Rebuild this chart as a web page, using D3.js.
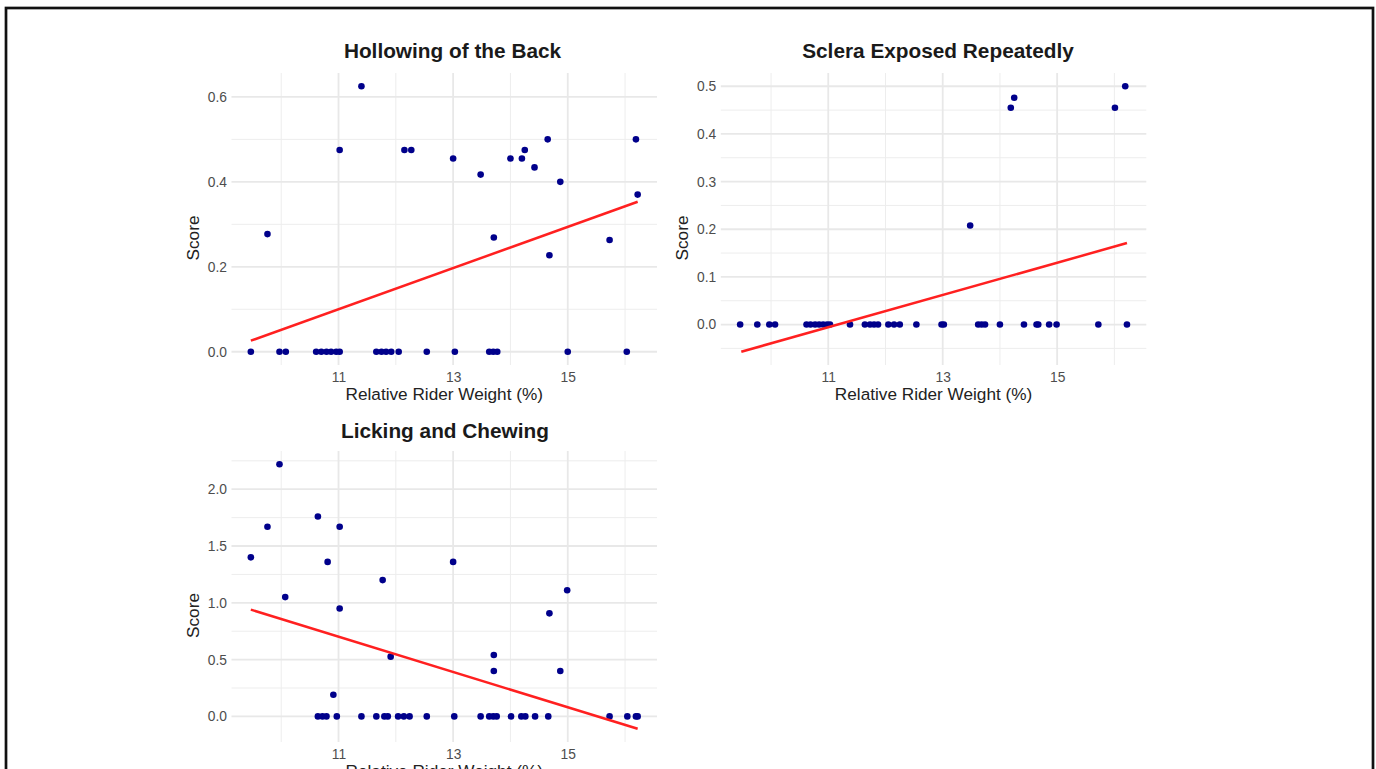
<!DOCTYPE html>
<html>
<head>
<meta charset="utf-8">
<script src="https://cdn.jsdelivr.net/npm/d3@7"></script>
<style>
  body { margin: 0; background: #fff; }
  svg { display: block; font-family: "Liberation Sans", Arial, sans-serif; }
</style>
</head>
<body>
<div id="chart"></div>
<script>
const W = 1376, H = 769;

// relative rider weight (%) and score
const hollowPts = [
  [9.47,0],[9.76,0.277],[9.97,0],[10.08,0],[10.61,0],[10.70,0],[10.79,0],[10.87,0],
  [10.96,0],[11.02,0],[11.02,0.475],[11.40,0.625],[11.66,0],[11.75,0],[11.83,0],[11.92,0],
  [12.05,0],[12.15,0.475],[12.27,0.475],[12.54,0],[13.00,0.455],[13.03,0],[13.48,0.417],
  [13.63,0],[13.70,0],[13.77,0],[13.71,0.269],[14.00,0.455],[14.20,0.455],[14.25,0.475],
  [14.42,0.434],[14.65,0.5],[14.68,0.227],[14.87,0.4],[15.00,0],[15.73,0.263],[16.03,0],
  [16.19,0.5],[16.22,0.37]
];
const scleraPts = [
  [9.46,0],[9.76,0],[9.97,0],[10.07,0],[10.62,0],[10.69,0],[10.77,0],[10.84,0],[10.91,0],
  [10.98,0],[11.03,0],[11.38,0],[11.64,0],[11.73,0],[11.80,0],[11.87,0],[12.05,0],[12.15,0],
  [12.25,0],[12.54,0],[12.98,0],[13.02,0],[13.62,0],[13.68,0],[13.74,0],[14.00,0],[14.42,0],
  [14.64,0],[14.67,0],[14.86,0],[14.99,0],[15.72,0],[16.22,0],
  [13.48,0.208],[14.19,0.455],[14.25,0.476],[16.01,0.455],[16.19,0.5]
];
const lickPts = [
  [9.47,1.40],[9.76,1.67],[9.97,2.22],[10.07,1.05],[10.64,1.76],[10.81,1.36],[10.91,0.19],
  [11.02,1.67],[11.02,0.95],[11.77,1.20],[11.91,0.526],[13.00,1.36],[13.71,0.54],[13.71,0.40],
  [14.68,0.907],[14.87,0.40],[14.99,1.11],
  [10.64,0],[10.72,0],[10.79,0],[10.97,0],[11.40,0],[11.66,0],[11.80,0],[11.86,0],[12.04,0],
  [12.14,0],[12.24,0],[12.54,0],[13.02,0],[13.48,0],[13.63,0],[13.70,0],[13.76,0],[14.01,0],
  [14.19,0],[14.26,0],[14.43,0],[14.66,0],[15.73,0],[16.04,0],[16.19,0],[16.22,0]
];

// fitted lines (end points)
const hollowFit = [[9.47,0.026],[16.22,0.353]];
const scleraFit = [[9.48,-0.057],[16.22,0.171]];
const lickFit = [[9.47,0.94],[16.22,-0.109]];

const xMajor = [11, 13, 15];
const xMinor = [10, 12, 14, 16];
const hollowMajor = [0, 0.2, 0.4, 0.6], hollowMinor = [0.1, 0.3, 0.5];
const scleraMajor = [0, 0.1, 0.2, 0.3, 0.4, 0.5], scleraMinor = [-0.05, 0.05, 0.15, 0.25, 0.35, 0.45];
const lickMajor = [0, 0.5, 1.0, 1.5, 2.0], lickMinor = [0.25, 0.75, 1.25, 1.75, 2.25];

const svg = d3.select('#chart').append('svg')
  .attr('width', W)
  .attr('height', H);

// frame round the figure
svg.append('rect')
  .attr('x', 6).attr('y', 8)
  .attr('width', 1367).attr('height', 800)
  .attr('fill', 'none')
  .attr('stroke', '#111')
  .attr('stroke-width', 2.7);

function expand(ext) {
  const pad = (ext[1] - ext[0]) * 0.05;
  return [ext[0] - pad, ext[1] + pad];
}

function drawPanel(p) {
  const w = 425.5, h = p.h;
  const all = p.pts.concat(p.fit);
  const x = d3.scaleLinear().domain(expand(d3.extent(all, d => d[0]))).range([0, w]);
  const y = d3.scaleLinear().domain(expand(d3.extent(all, d => d[1]))).range([h, 0]);

  const g = svg.append('g').attr('transform', 'translate(' + p.left + ',' + p.top + ')');

  // grid
  g.selectAll('.vminor').data(xMinor).enter().append('line')
    .attr('x1', d => x(d)).attr('x2', d => x(d)).attr('y1', 0).attr('y2', h)
    .attr('stroke', '#ededed').attr('stroke-width', 1);
  g.selectAll('.hminor').data(p.yMinor).enter().append('line')
    .attr('x1', 0).attr('x2', w).attr('y1', d => y(d)).attr('y2', d => y(d))
    .attr('stroke', '#ededed').attr('stroke-width', 1);
  g.selectAll('.vmajor').data(xMajor).enter().append('line')
    .attr('x1', d => x(d)).attr('x2', d => x(d)).attr('y1', 0).attr('y2', h)
    .attr('stroke', '#e8e8e8').attr('stroke-width', 1.8);
  g.selectAll('.hmajor').data(p.yMajor).enter().append('line')
    .attr('x1', 0).attr('x2', w).attr('y1', d => y(d)).attr('y2', d => y(d))
    .attr('stroke', '#e8e8e8').attr('stroke-width', 1.8);

  // axes
  const xa = g.append('g').attr('transform', 'translate(0,' + h + ')')
    .call(d3.axisBottom(x).tickValues(xMajor).tickSize(0).tickPadding(7.5).tickFormat(d3.format('d')));
  const ya = g.append('g')
    .call(d3.axisLeft(y).tickValues(p.yMajor).tickSize(0).tickPadding(4.5).tickFormat(d3.format('.1f')));
  [xa, ya].forEach(a => {
    a.select('.domain').remove();
    a.selectAll('text')
      .attr('fill', '#4d4d4d')
      .style('font-size', '13.8px')
      .style('font-family', '"Liberation Sans", Arial, sans-serif');
  });

  // points
  g.selectAll('circle').data(p.pts).enter().append('circle')
    .attr('cx', d => x(d[0]))
    .attr('cy', d => y(d[1]))
    .attr('r', 3.3)
    .attr('fill', '#00008b');

  // fitted line
  g.append('path')
    .datum(p.fit)
    .attr('d', d3.line().x(d => x(d[0])).y(d => y(d[1])))
    .attr('fill', 'none')
    .attr('stroke', '#ff2020')
    .attr('stroke-width', 2.5);

  // labels
  g.append('text')
    .attr('x', w / 2).attr('y', h + 35)
    .attr('text-anchor', 'middle')
    .attr('fill', '#222')
    .style('font-size', '17.2px')
    .text('Relative Rider Weight (%)');

  g.append('text')
    .attr('transform', 'translate(-39,' + (h / 2 + 19) + ') rotate(-90)')
    .attr('dy', '0.35em')
    .attr('text-anchor', 'middle')
    .attr('fill', '#222')
    .style('font-size', '17.2px')
    .text('Score');

  svg.append('text')
    .attr('x', p.titleX).attr('y', p.titleY)
    .attr('text-anchor', 'middle')
    .attr('fill', '#1a1a1a')
    .style('font-size', '20.8px')
    .style('font-weight', 'bold')
    .text(p.title);
}

drawPanel({ title: 'Hollowing of the Back', pts: hollowPts, fit: hollowFit,
  yMajor: hollowMajor, yMinor: hollowMinor, left: 231.5, top: 73, h: 292, titleX: 452.5, titleY: 58.3 });
drawPanel({ title: 'Sclera Exposed Repeatedly', pts: scleraPts, fit: scleraFit,
  yMajor: scleraMajor, yMinor: scleraMinor, left: 720.8, top: 73, h: 292, titleX: 938, titleY: 58.3 });
drawPanel({ title: 'Licking and Chewing', pts: lickPts, fit: lickFit,
  yMajor: lickMajor, yMinor: lickMinor, left: 231.5, top: 451, h: 291, titleX: 445, titleY: 438.3 });
</script>
</body>
</html>
